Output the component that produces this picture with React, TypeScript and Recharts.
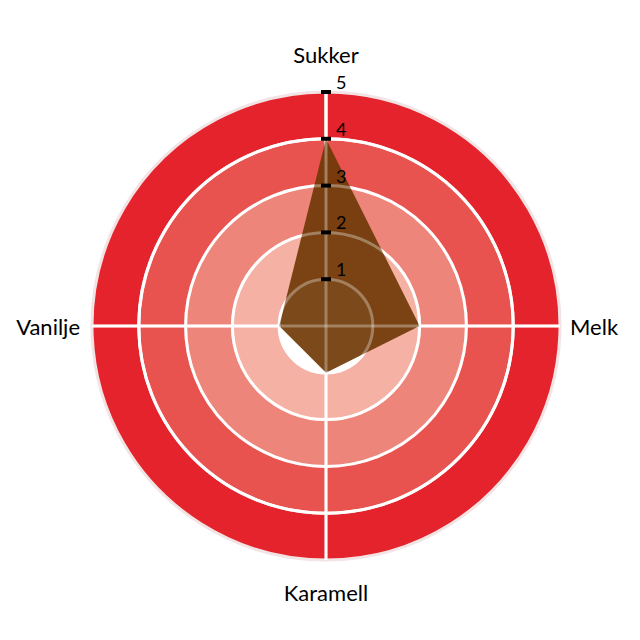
import { RadarChart, Radar, PolarGrid, PolarAngleAxis, PolarRadiusAxis, PieChart, Pie, Cell } from "recharts";

const axes = ["Sukker", "Melk", "Karamell", "Vanilje"];
const values = [4, 2, 1, 1];
const radiusTicks = [1, 2, 3, 4, 5];
const bandColors = ["#f4b1a4", "#ee857a", "#e85350", "#e5232c"];

const data = axes.map((axis, i) => ({ axis, value: values[i] }));

const SIZE = 624;
const CX = 318;
const CY = 318;
const R = 234;
const UNIT = R / 5;
const gridRadii = [1, 2, 3, 4].map((v) => v * UNIT);
const FONT = "Lato, 'Open Sans', sans-serif";

const layer: React.CSSProperties = { position: "absolute", left: 0, top: 0 };

const RadiusTick = (props: any) => {
  const { x, y, payload } = props;
  if (payload.value === 0) return null;
  return (
    <g>
      <rect x={x - 5} y={y - 2} width={10} height={4} fill="#000" />
      <text x={x + 10} y={y - 10} fontSize={18} fontFamily={FONT} fill="#000" dominantBaseline="central">
        {payload.value}
      </text>
    </g>
  );
};

const AngleTick = (props: any) => {
  const { payload } = props;
  const name = payload.value;
  let x = CX;
  let y = CY;
  let anchor: "start" | "middle" | "end" = "middle";
  if (name === "Sukker") y = CY - 272;
  else if (name === "Karamell") y = CY + 266;
  else if (name === "Melk") { x = CX + 244; anchor = "start"; }
  else { x = CX - 246; anchor = "end"; }
  return (
    <text x={x} y={y} textAnchor={anchor} dominantBaseline="central" fontSize={22} fontFamily={FONT} fill="#000">
      {name}
    </text>
  );
};

export default function App() {
  return (
    <div style={{ position: "relative", width: SIZE, height: SIZE }}>
      <div style={layer}>
        <PieChart width={SIZE} height={SIZE} margin={{ top: 0, right: 0, bottom: 0, left: 0 }}>
          {bandColors.map((c, i) => (
            <Pie
              key={i}
              data={[{ name: `band${i}`, value: 1 }]}
              dataKey="value"
              cx={CX}
              cy={CY}
              innerRadius={(i + 1) * UNIT}
              outerRadius={(i + 2) * UNIT}
              startAngle={90}
              endAngle={-270}
              stroke={i === 3 ? "#f2e4e4" : "none"}
              strokeWidth={i === 3 ? 3 : 0}
              isAnimationActive={false}
            >
              <Cell fill={c} />
            </Pie>
          ))}
        </PieChart>
      </div>
      <div style={layer}>
        <RadarChart width={SIZE} height={SIZE} data={data} cx={CX} cy={CY} outerRadius={R} margin={{ top: 0, right: 0, bottom: 0, left: 0 }}>
          <PolarGrid gridType="circle" polarRadius={gridRadii} stroke="#ffffff" strokeWidth={3} />
          <PolarAngleAxis dataKey="axis" tick={false} axisLine={false} tickLine={false} />
          <PolarRadiusAxis angle={90} domain={[0, 5]} ticks={[0, ...radiusTicks]} tick={false} axisLine={false} tickLine={false} />
          <Radar dataKey="value" fill="#703a06" fillOpacity={0.92} stroke="none" isAnimationActive={false} />
        </RadarChart>
      </div>
      <div style={layer}>
        <RadarChart width={SIZE} height={SIZE} data={data} cx={CX} cy={CY} outerRadius={R} margin={{ top: 0, right: 0, bottom: 0, left: 0 }}>
          <PolarGrid gridType="circle" polarRadius={gridRadii} stroke="#ffffff" strokeOpacity={0.3} strokeWidth={3} />
          <PolarAngleAxis dataKey="axis" tick={<AngleTick />} axisLine={false} tickLine={false} />
          <PolarRadiusAxis
            angle={90}
            domain={[0, 5]}
            ticks={[0, ...radiusTicks]}
            tick={<RadiusTick />}
            axisLine={false}
            tickLine={false}
          />
          <Radar dataKey="value" fill="none" fillOpacity={0} stroke="none" isAnimationActive={false} />
        </RadarChart>
      </div>
    </div>
  );
}
